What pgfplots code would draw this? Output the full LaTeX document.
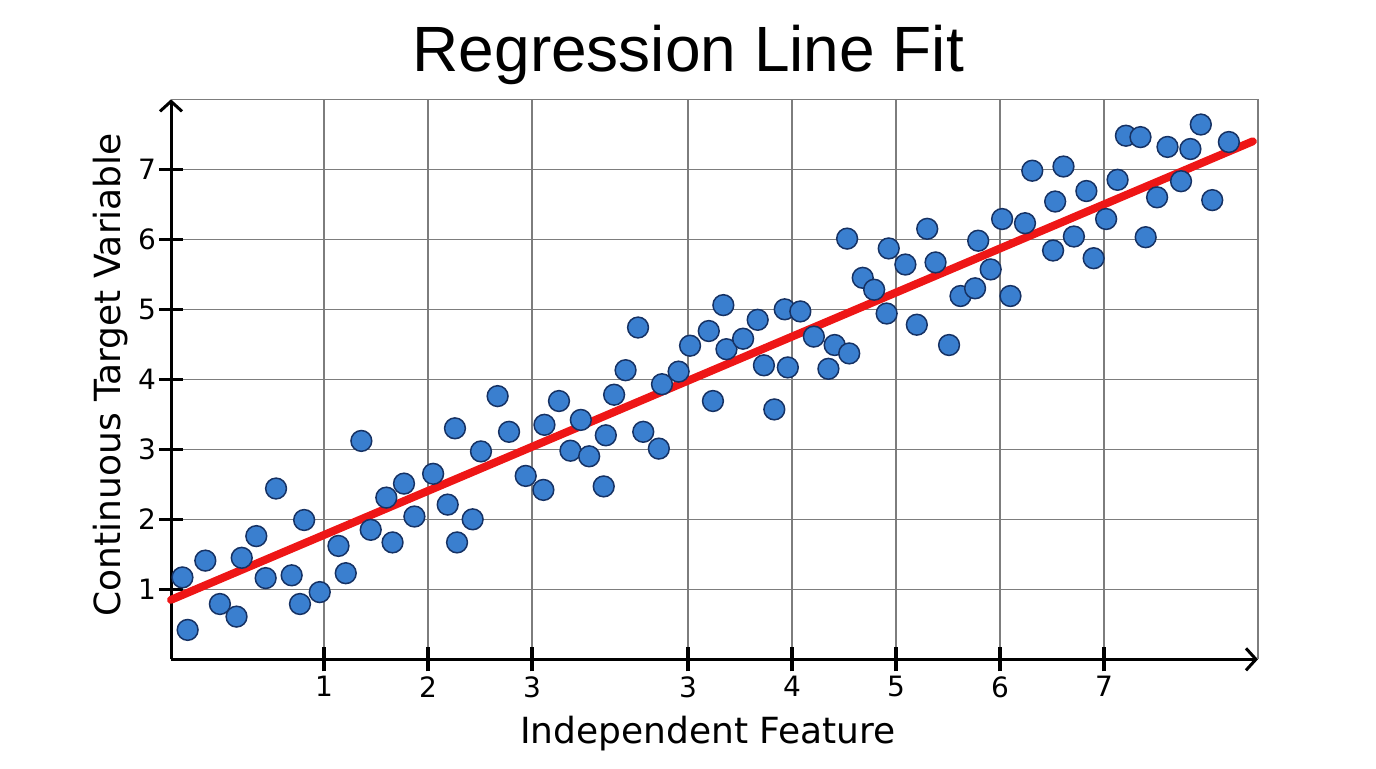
\documentclass[border=0pt]{standalone}
\usepackage{fontspec}
\setmainfont{DejaVu Sans}
\newfontfamily\titlefont{Liberation Sans}
\usepackage{pgfplots}
\pgfplotsset{compat=1.18}
\usetikzlibrary{arrows.meta}
\definecolor{ptfill}{RGB}{58,127,207}
\definecolor{ptedge}{RGB}{22,50,100}
\definecolor{fitred}{RGB}{238,22,22}
\definecolor{gridgray}{RGB}{125,125,125}
\pgfplotstableread{
x y
0.14 1.17
0.19 0.42
0.36 1.41
0.50 0.79
0.66 0.61
0.71 1.45
0.85 1.76
0.94 1.16
1.04 2.44
1.19 1.20
1.27 0.79
1.31 1.99
1.46 0.96
1.64 1.62
1.71 1.23
1.86 3.12
1.95 1.85
2.10 2.31
2.16 1.67
2.27 2.51
2.37 2.04
2.55 2.65
2.69 2.21
2.76 3.30
2.78 1.67
2.93 2.00
3.01 2.97
3.17 3.76
3.28 3.25
3.44 2.62
3.61 2.42
3.62 3.35
3.76 3.69
3.87 2.98
3.97 3.42
4.05 2.90
4.21 3.20
4.19 2.47
4.29 3.78
4.40 4.13
4.52 4.74
4.57 3.25
4.72 3.01
4.75 3.93
4.91 4.11
5.02 4.48
5.20 4.69
5.24 3.69
5.34 5.06
5.37 4.43
5.53 4.58
5.67 4.85
5.73 4.20
5.83 3.57
5.93 5.00
5.96 4.17
6.08 4.97
6.21 4.61
6.35 4.15
6.41 4.49
6.55 4.37
6.53 6.01
6.68 5.45
6.79 5.28
6.91 4.94
6.93 5.87
7.09 5.64
7.20 4.78
7.30 6.15
7.38 5.67
7.51 4.49
7.62 5.19
7.76 5.30
7.79 5.98
7.91 5.57
8.10 5.19
8.02 6.29
8.24 6.23
8.31 6.98
8.51 5.84
8.53 6.54
8.61 7.04
8.71 6.04
8.83 6.69
8.90 5.73
9.02 6.29
9.13 6.85
9.21 7.48
9.35 7.46
9.40 6.03
9.51 6.60
9.61 7.32
9.74 6.83
9.83 7.29
9.93 7.64
10.04 6.56
10.20 7.39
}\points
\begin{document}
\begin{tikzpicture}
\useasboundingbox (0,0) rectangle (688pt,384pt);
\begin{axis}[
 at={(85.5pt,54.35pt)}, anchor=south west,
 scale only axis, width=543.5pt, height=280pt,
 xmin=0.03, xmax=10.48, ymin=0, ymax=8,
 axis lines=left,
 axis line style={line width=1.5pt, -{Straight Barb[length=5pt,width=11pt,line width=1.5pt]}},
 xtick={1.5,2.5,3.5,5,6,7,8,9},
 xticklabels={1,2,3,3,4,5,6,7},
 ytick={1,2,3,4,5,6,7},
 grid=major,
 major grid style={gridgray, line width=0.75pt},
 major tick length=12pt, tick align=center,
 every tick/.style={black, line width=1.6pt},
 ticklabel style={font=\fontsize{14}{16}\selectfont},
 xticklabel style={yshift=1pt},
 yticklabel style={xshift=2pt},
 /pgf/number format/assume math mode=true,
 xlabel={Independent Feature}, ylabel={Continuous Target Variable},
 label style={font=\fontsize{18}{22}\selectfont},
 xlabel style={at={(rel axis cs:0.494,-0.132)}, anchor=center},
 ylabel style={at={(rel axis cs:-0.056,0.508)}, anchor=center},
 title={\titlefont Regression Line Fit},
 title style={at={(rel axis cs:0.476,1.058)}, anchor=center, font=\fontsize{32}{38}\selectfont},
 clip=false,
]
\addplot[gridgray, line width=0.75pt, forget plot] coordinates {(0.03,8) (10.48,8) (10.48,0)};
\addplot[only marks, mark=*, mark size=5.2pt, mark options={fill=ptfill, draw=ptedge, line width=0.75pt}] table[x=x,y=y] {\points};
\addplot[fitred, line width=4pt, line cap=round] coordinates {(0.03,0.85) (10.43,7.40)};
\end{axis}
\end{tikzpicture}
\end{document}
